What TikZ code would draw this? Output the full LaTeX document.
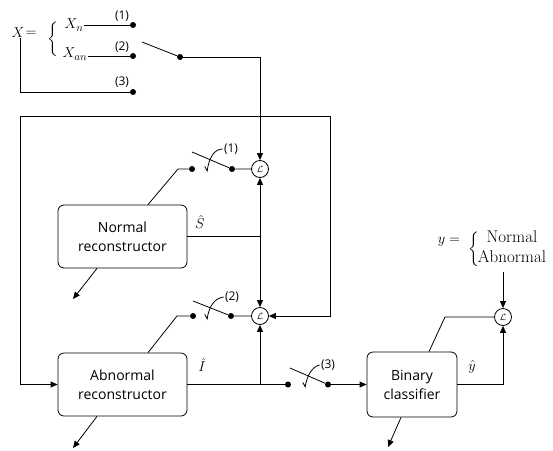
\documentclass[tikz,border=0pt]{standalone}
\usepackage{amsmath}
\usepackage{fontspec}
\setsansfont{Open Sans}
\usetikzlibrary{arrows.meta,positioning,calc}

\begin{document}
\begin{tikzpicture}[x=1pt, y=-1pt, line width=0.8pt,
    block/.style={draw, rounded corners=6pt, minimum width=129pt, minimum height=63pt, align=center, font=\sffamily\fontsize{14}{19}\selectfont},
    loss/.style={circle, draw, inner sep=0pt, minimum size=17pt, font=\fontsize{9}{9}\selectfont},
    dot/.style={circle, fill, inner sep=0pt, minimum size=6pt},
    tag/.style={font=\sffamily\fontsize{12}{12}\selectfont, inner sep=0pt},
    mth/.style={font=\fontsize{15}{18}\selectfont, inner sep=0pt},
    arr/.style={-{Triangle[length=7pt,width=6pt]}},
    chk/.style={-{Straight Barb[right,length=4pt,width=6pt]}}
  ]
    \useasboundingbox (0,0) rectangle (553,450);

    % input selection
    \node[mth] (xvar) at (18,33) {$X$};
    \node[mth] (xeq) at (31,34) {$=$};
    \node[mth] (xbr) at (53,39) {$\left\{\rule[-15.25pt]{0pt}{38pt}\right.$};
    \node[mth] (xn) at (74,25) {$X_n$};
    \node[mth] (xan) at (75,54) {$X_{an}$};
    \node[dot] (d1) at (133,25) {};
    \node[dot] (d2) at (133,56) {};
    \node[dot] (d3) at (133,92) {};
    \node[dot] (ds) at (180,57) {};
    \node[tag] at (122,16) {(1)};
    \node[tag] at (122,47) {(2)};
    \node[tag] at (122,82) {(3)};
    \coordinate (lv0) at (142,42);
    \coordinate (fbl) at (20,116);
    \coordinate (fbr) at (330,116);

    % blocks and losses
    \node[block] (nrec) at (122.5,236.5) {Normal\\reconstructor};
    \node[block] (arec) at (122.5,384.5) {Abnormal\\reconstructor};
    \node[block, minimum width=90pt, minimum height=65pt] (bcls) at (412,384.5) {Binary\\classifier};
    \node[loss] (l1) at (260,169) {$\mathcal{L}$};
    \node[loss] (l2) at (260,316) {$\mathcal{L}$};
    \node[loss] (l3) at (503,317) {$\mathcal{L}$};

    % switches
    \node[dot] (s1a) at (192,169) {};
    \node[dot] (s1b) at (232,169) {};
    \node[dot] (s2a) at (193,316) {};
    \node[dot] (s2b) at (231,316) {};
    \node[dot] (s3a) at (288,384.5) {};
    \node[dot] (s3b) at (328,384.5) {};
    \node[tag] (t1) at (231,149) {(1)};
    \node[tag] (t2) at (232,297) {(2)};
    \node[tag] (t3) at (328,365) {(3)};
    \coordinate (lv1) at (192,152);
    \coordinate (lv2) at (193,301);
    \coordinate (lv3) at (290,368);
    \coordinate (c1) at (207,172);
    \coordinate (c2) at (207,320);
    \coordinate (c3) at (305,388);
    \coordinate (kn) at (178,169);
    \coordinate (ka) at (177,316);
    \coordinate (kb) at (445,317);
    \coordinate (js) at (260,236.5);
    \coordinate (ji) at (260,384.5);
    \coordinate (on) at (73,299);
    \coordinate (oa) at (73,448);
    \coordinate (ob) at (388,447);

    % labels
    \node[mth] at (200,222) {$\hat{S}$};
    \node[mth] at (202,365) {$\hat{I}$};
    \node[mth] at (472,367) {$\hat{y}$};
    \node[mth] (yeq) at (449,242) {$y=$};
    \node[mth] (ybr) at (474,249) {$\left\{\rule[-11.25pt]{0pt}{30pt}\right.$};
    \node[mth, font=\fontsize{17}{18}\selectfont] (ynor) at (512,237) {Normal};
    \node[mth, font=\fontsize{17}{18}\selectfont] (yabn) at (512,257) {Abnormal};
    \coordinate (yin) at (503,272);

    \draw (xn.east |- d1) -- (d1);
    \draw (xan.east |- d2) -- (d2);
    \draw ([xshift=2pt]xvar.south) |- (d3);
    \draw (lv0) -- (ds);
    \draw[arr] (ds) -| (l1.north);
    \draw (fbl) -- (fbr);
    \draw[arr] (fbl) |- (arec.west);
    \draw[arr] (fbr) |- (l2.east);

    \draw ([xshift=25.5pt]nrec.north) -- (kn) -- (s1a);
    \draw (lv1) -- (s1b) -- (l1.west);
    \draw[chk] ([xshift=-1pt]t1.west) .. controls (214,149) and (209,158) .. (c1);
    \draw (nrec.east) -- (js);
    \draw[arr] (js) -- (l1.south);
    \draw[arr] (js) -- (l2.north);
    \draw[arr] ([xshift=-25.5pt]nrec.south) -- (on);

    \draw ([xshift=25.5pt]arec.north) -- (ka) -- (s2a);
    \draw (lv2) -- (s2b) -- (l2.west);
    \draw[chk] ([xshift=-1pt]t2.west) .. controls (215,298) and (209,306) .. (c2);
    \draw (arec.east) -- (s3a);
    \draw[arr] (ji) -- (l2.south);
    \draw (lv3) -- (s3b);
    \draw[chk] ([xshift=-1pt]t3.west) .. controls (313,366) and (307,375) .. (c3);
    \draw[arr] (s3b) -- (bcls.west);
    \draw[arr] ([xshift=-25.5pt]arec.south) -- (oa);

    \draw ([xshift=17pt]bcls.north) -- (kb) -- (l3.west);
    \draw[arr] (bcls.east) -| (l3.south);
    \draw[arr] (yin) -- (l3.north);
    \draw[arr] ([xshift=-11pt]bcls.south) -- (ob);
\end{tikzpicture}
\end{document}
